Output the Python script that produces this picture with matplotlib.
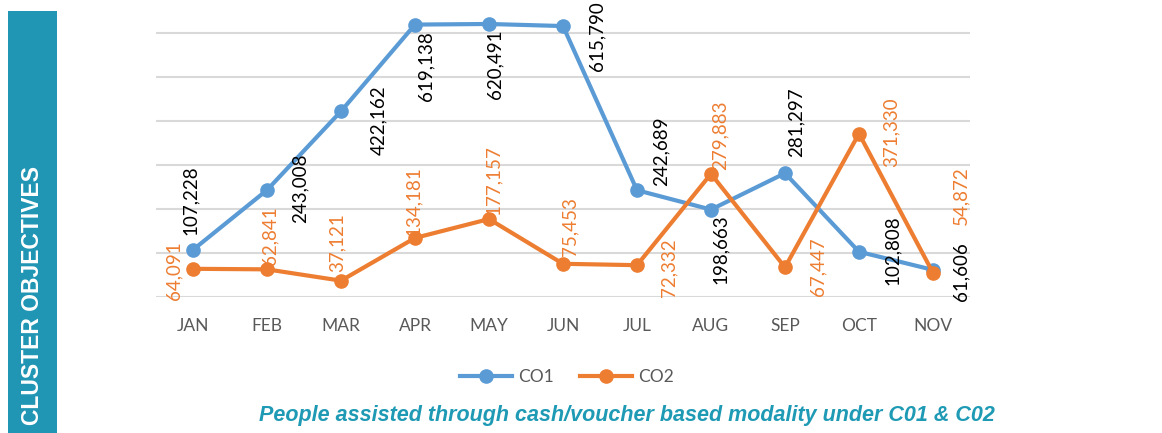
import matplotlib
matplotlib.use("Agg")
import matplotlib.pyplot as plt
from matplotlib.patches import Rectangle

months = ["JAN", "FEB", "MAR", "APR", "MAY", "JUN", "JUL", "AUG", "SEP", "OCT", "NOV"]
co1 = [107228, 243008, 422162, 619138, 620491, 615790, 242689, 198663, 281297, 102808, 61606]
co2 = [64091, 62841, 37121, 134181, 177157, 75453, 72332, 279883, 67447, 371330, 54872]
series_names = ["CO1", "CO2"]
caption = "People assisted through cash/voucher based modality under C01 & C02"
side_title = "CLUSTER OBJECTIVES"

# label offsets (pixels: dx right, dy up)
off1 = [(-3, 50), (33, 2), (38, -9), (11, -42), (6, -40), (34, -10), (24, 39), (9, -40), (11, 51), (33, 2), (28, -2)]
off2 = [(-19, -2), (3, 34), (-4, 38), (-2, 37), (4, 39), (7, 37), (32, -3), (9, 39), (33, 1), (32, 1), (28, 77)]

W, H = 1162, 433
fig = plt.figure(figsize=(W / 100, H / 100), dpi=100)
fig.patch.set_facecolor("white")

teal = "#2196B4"
fig.patches.append(Rectangle((8 / W, 0), 49 / W, (H - 11) / H, transform=fig.transFigure,
                             facecolor=teal, edgecolor="none"))
fig.text(33 / W, 1 - 166 / H, side_title, rotation=90, ha="center", va="top",
         color="white", fontsize=16.5, fontweight="bold", family="Liberation Sans")

ax = fig.add_axes([156 / W, 1 - 297 / H, (970 - 156) / W, 297 / H])
ax.set_xlim(-0.5, len(months) - 0.5)
ax.set_ylim(0, 297 / 44.0 * 100000)
ax.set_yticks([i * 100000 for i in range(7)])
ax.set_yticklabels([])
ax.tick_params(axis="y", length=0)
ax.grid(axis="y", color="#D9D9D9", linewidth=1.5)
ax.set_axisbelow(True)
for s in ax.spines.values():
    s.set_visible(False)
x = list(range(len(months)))
ax.set_xticks(x)
ax.set_xticklabels(months, fontsize=12.5, color="#595959", family="Lato")
ax.tick_params(axis="x", length=0, pad=15)

blue = "#5B9BD5"
orange = "#ED7D31"
l1, = ax.plot(x, co1, color=blue, lw=3, marker="o", ms=9.5, label=series_names[0], clip_on=False, zorder=3)
l2, = ax.plot(x, co2, color=orange, lw=3, marker="o", ms=9.5, label=series_names[1], clip_on=False, zorder=4)

for xi, v, (dx, dy) in zip(x, co1, off1):
    ax.annotate(f"{v:,}", (xi, v), xytext=(dx * 0.72, dy * 0.72), textcoords="offset points",
                rotation=90, ha="center", va="center", fontsize=13.5, color="black",
                family="Lato", annotation_clip=False, zorder=5)
for xi, v, (dx, dy) in zip(x, co2, off2):
    ax.annotate(f"{v:,}", (xi, v), xytext=(dx * 0.72, dy * 0.72), textcoords="offset points",
                rotation=90, ha="center", va="center", fontsize=13.5, color=orange,
                family="Lato", fontweight="normal", annotation_clip=False, zorder=5)

fig.legend(handles=[l1, l2], loc="center", bbox_to_anchor=(567 / W, 1 - 377 / H), ncol=2,
           frameon=False, prop={"family": "Lato", "size": 12.5}, labelcolor="#595959",
           handlelength=3.0, handletextpad=0.35, columnspacing=1.5)

fig.text(627 / W, 1 - 416 / H, caption, ha="center", va="center", color="#1E9AB5",
         fontsize=15.5, fontweight="bold", fontstyle="italic", family="Liberation Sans")

fig.savefig("out.png", dpi=100)
